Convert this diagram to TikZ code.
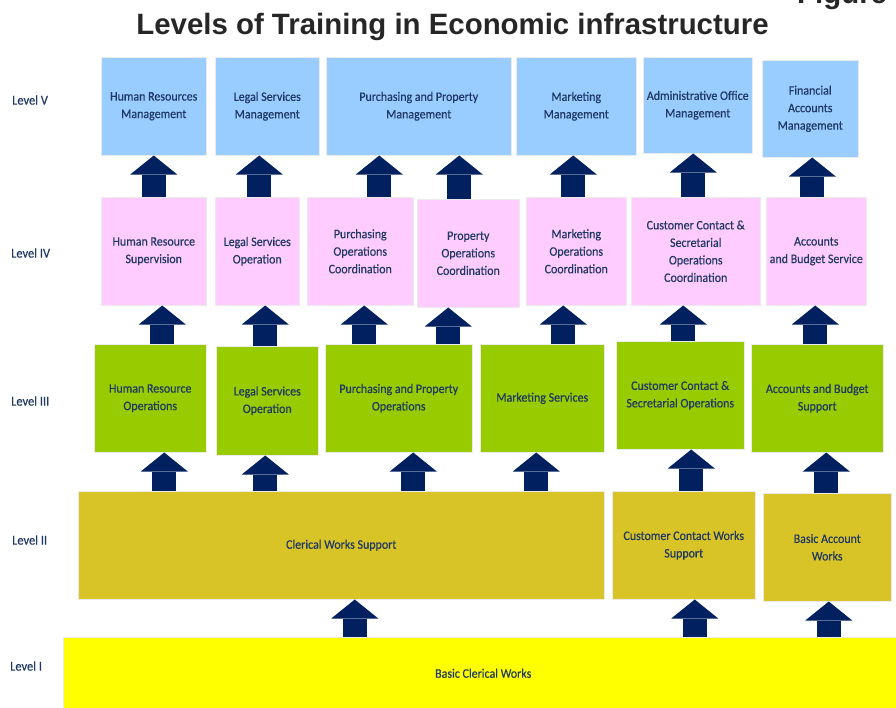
\documentclass[tikz,border=0pt]{standalone}
\usepackage{fontspec}
\setmainfont{Carlito}[FakeStretch=0.92, FakeBold=0.35]
\newfontfamily\titlefont{Liberation Sans}
\usepackage{tikz}
\usetikzlibrary{arrows.meta, positioning}
\definecolor{blueV}{RGB}{153,204,255}
\definecolor{pinkIV}{RGB}{255,204,255}
\definecolor{greenIII}{RGB}{153,204,0}
\definecolor{oliveII}{RGB}{217,196,39}
\definecolor{yellowI}{RGB}{255,255,0}
\definecolor{arrowNavy}{RGB}{0,32,96}
\definecolor{textNavy}{RGB}{31,56,100}
\definecolor{titleGray}{gray}{0.15}

\begin{document}
\begin{tikzpicture}[x=1pt, y=-1pt,
    box/.style={inner sep=0pt, anchor=north west, align=center, text=textNavy,
        font=\fontsize{13}{17.5}\selectfont, draw=black!8, line width=0.5pt},
    levV/.style={box, fill=blueV},
    levIV/.style={box, fill=pinkIV},
    levIII/.style={box, fill=greenIII},
    levII/.style={box, fill=oliveII},
    levI/.style={box, fill=yellowI},
    lvl/.style={anchor=west, inner sep=0pt, text=textNavy, font=\fontsize{13.5}{15}\selectfont},
    uparrow/.style={draw=arrowNavy, line width=24pt,
        -{Triangle[length=19pt, width=47pt, line width=0pt]}}]
    \useasboundingbox (0,0) rectangle (896,707);

    % Title
    \node[anchor=base, text=titleGray, font=\titlefont\bfseries\fontsize{29.4}{31}\selectfont] (title) at (452.5,34) {Levels of Training in Economic infrastructure};
    \node[anchor=base west, inner sep=0pt, text=titleGray, font=\titlefont\bfseries\fontsize{29.4}{31}\selectfont] (fig) at (797,3) {Figure};

    % Level V
    \node[levV, minimum width=105, minimum height=98] (b1) at (101,57) {Human Resources\\Management};
    \node[levV, minimum width=104, minimum height=98] (b2) at (215,57) {Legal Services\\Management};
    \node[levV, minimum width=185, minimum height=98] (b3) at (326,57) {Purchasing and Property\\Management};
    \node[levV, minimum width=120, minimum height=98] (b4) at (516,57) {Marketing\\Management};
    \node[levV, minimum width=109, minimum height=96] (b5) at (643,57) {Administrative Office\\Management};
    \node[levV, minimum width=96, minimum height=97] (b6) at (762,60) {Financial\\Accounts\\Management};

    % Level IV
    \node[levIV, minimum width=105, minimum height=108] (c1) at (101,197) {Human Resource\\Supervision};
    \node[levIV, minimum width=84, minimum height=108] (c2) at (215,197) {Legal Services\\Operation};
    \node[levIV, minimum width=106, minimum height=108] (c3) at (307,197) {Purchasing\\Operations\\Coordination};
    \node[levIV, minimum width=102, minimum height=108] (c4) at (417,199) {Property\\Operations\\Coordination};
    \node[levIV, minimum width=100, minimum height=108] (c5) at (526,197) {Marketing\\Operations\\Coordination};
    \node[levIV, minimum width=129, minimum height=108] (c6) at (631,197) {Customer Contact \&\\Secretarial\\Operations\\Coordination};
    \node[levIV, minimum width=100, minimum height=108] (c7) at (766,197) {Accounts\\and Budget Service};

    % Level III
    \node[levIII, minimum width=112, minimum height=108] (d1) at (94,344) {Human Resource\\Operations};
    \node[levIII, minimum width=102, minimum height=109] (d2) at (216,346) {Legal Services\\Operation};
    \node[levIII, minimum width=147, minimum height=108] (d3) at (325,344) {Purchasing and Property\\Operations};
    \node[levIII, minimum width=124, minimum height=108] (d4) at (480,344) {Marketing Services};
    \node[levIII, minimum width=128, minimum height=108] (d5) at (616,341) {Customer Contact \&\\Secretarial Operations};
    \node[levIII, minimum width=132, minimum height=108] (d6) at (751,344) {Accounts and Budget\\Support};

    % Level II
    \node[levII, minimum width=526, minimum height=108] (e1) at (78,491) {Clerical Works Support};
    \node[levII, minimum width=143, minimum height=108] (e2) at (612,491) {Customer Contact Works\\Support};
    \node[levII, minimum width=128, minimum height=108] (e3) at (763,493) {Basic Account\\Works};

    % Level I
    \node[levI, minimum width=840, minimum height=72] (f1) at (63,637) {Basic Clerical Works};

    % Level labels
    \node[lvl] (l5) at (12,100) {Level V};
    \node[lvl] (l4) at (11,253) {Level IV};
    \node[lvl] (l3) at (11,401) {Level III};
    \node[lvl] (l2) at (12,540) {Level II};
    \node[lvl] (l1) at (10,666) {Level I};

    % Arrows
    \foreach \lo/\up/\dx in {c1/b1/0, c2/b2/2, c3/b3/19, c4/b3/-9, c5/b4/-3, c6/b5/-2.5, c7/b6/-4,
        d1/c1/12, d2/c2/-2, d3/c3/-34.5, d3/c4/49.5, d4/c5/21, d5/c6/3, d6/c7/-2,
        e1/d1/-177, e1/d2/-76, e1/d3/72, e1/d4/195, e2/d5/7.5, e3/d6/-1,
        f1/e1/-128.5, f1/e2/211.5, f1/e3/345.5}
        \draw[uparrow] ([xshift=\dx pt]\lo.north) -- ([xshift=\dx pt]\lo.north |- \up.south);
\end{tikzpicture}
\end{document}
